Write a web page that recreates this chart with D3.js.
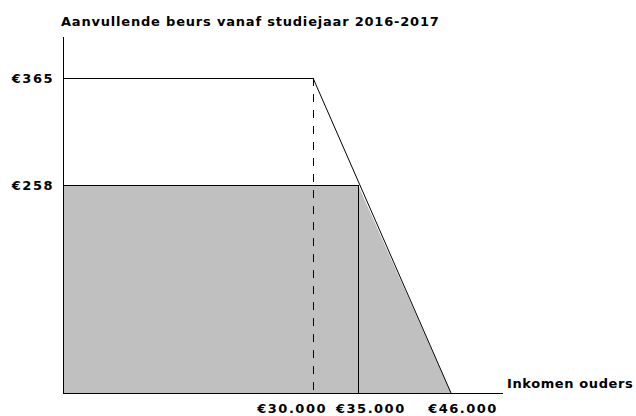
<!DOCTYPE html>
<html><head><meta charset="utf-8">
<script src="https://cdn.jsdelivr.net/npm/d3@7"></script>
<style>body{margin:0;background:#fff}svg{display:block}text{font-family:"DejaVu Sans",Verdana,sans-serif;font-weight:bold;font-size:13px;fill:#000}</style>
</head><body><svg id="c" width="636" height="416"></svg>
<script>
const title = "Aanvullende beurs vanaf studiejaar 2016-2017";
const xTitle = "Inkomen ouders";
const fullGrant = 365;
const reducedGrant = 258;
const incomeFullUntil = 30000;
const incomeReducedUntil = 35000;
const incomeMax = 46000;
const yTickValues = [365, 258];
const yTickLabels = ["€365", "€258"];
const xTickValues = [30000, 35000, 46000];
const xTickLabels = ["€30.000", "€35.000", "€46.000"];

const svg = d3.select("#c");
// piecewise (schematic, not to scale) scales
const x = d3.scaleLinear().domain([0, 30000, 35000, 46000, 51800]).range([63, 313, 358, 451, 503]);
const y = d3.scaleLinear().domain([0, 258, 365, 406]).range([393, 185, 78, 37]);
const line = d3.line().x(d=>x(d[0])).y(d=>y(d[1]));

// gray area
const area = [[0,0],[0,reducedGrant],[incomeReducedUntil,reducedGrant],[incomeMax,0]];
svg.append("path").attr("d", line(area)+"Z").attr("fill","#c0c0c0").attr("stroke","none");

// reduced grant outline (top + right)
svg.append("path").attr("d", line([[0,reducedGrant],[incomeReducedUntil,reducedGrant],[incomeReducedUntil,0]]))
  .attr("fill","none").attr("stroke","#000").attr("shape-rendering","crispEdges");

// full grant line
svg.append("path").attr("d", line([[0,fullGrant],[incomeFullUntil,fullGrant]]))
  .attr("fill","none").attr("stroke","#000").attr("shape-rendering","crispEdges");
svg.append("path").attr("d", line([[incomeFullUntil,fullGrant],[incomeMax,0]]))
  .attr("fill","none").attr("stroke","#000").attr("stroke-width",1);
// dashed line
svg.append("path").attr("d", line([[incomeFullUntil,fullGrant],[incomeFullUntil,0]]))
  .attr("fill","none").attr("stroke","#000").attr("stroke-dasharray","8,8").attr("shape-rendering","crispEdges");

// axes
svg.append("line").attr("x1",x(0)+0.5).attr("x2",x(0)+0.5).attr("y1",y(406)).attr("y2",y(0)).attr("stroke","#000");
svg.append("line").attr("x1",x(0)).attr("x2",x(51800)).attr("y1",y(0)+0.5).attr("y2",y(0)+0.5).attr("stroke","#000");

// y labels
svg.selectAll(".yl").data(yTickValues).enter().append("text")
  .attr("x",54).attr("y",d=>y(d)).attr("dy","0.36em").attr("text-anchor","end")
  .style("letter-spacing","1.5px")
  .text((d,i)=>yTickLabels[i]);

// x labels
const xAnchor = ["end","start","middle"];
const xDx = [14,-22,12];
svg.selectAll(".xl").data(xTickValues).enter().append("text")
  .attr("x",(d,i)=>x(d)+xDx[i]).attr("y",413).attr("text-anchor",(d,i)=>xAnchor[i])
  .style("letter-spacing","1.5px")
  .text((d,i)=>xTickLabels[i]);

svg.append("text").attr("x",507).attr("y",388).style("letter-spacing","0.6px").text(xTitle);
svg.append("text").attr("x",61).attr("y",26).style("letter-spacing","0.8px").text(title);
</script></body></html>
